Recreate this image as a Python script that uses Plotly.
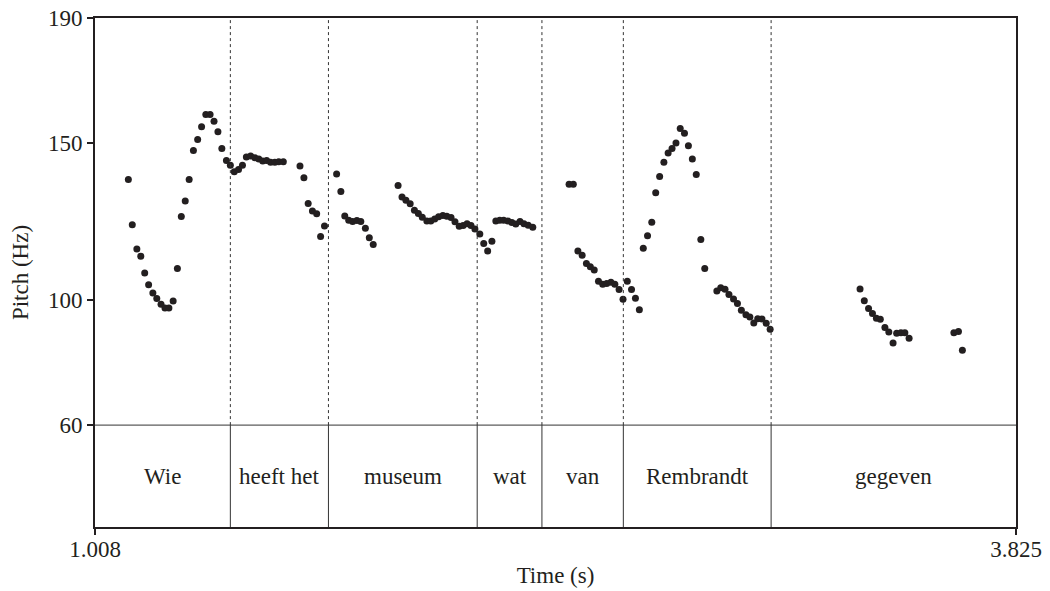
import plotly.graph_objects as go

# Pitch samples (time in s, pitch in Hz)
times = [
    1.110, 1.122, 1.136, 1.148, 1.160, 1.172, 1.185, 1.197, 1.210, 1.222, 1.234, 1.247,
    1.260, 1.272, 1.284, 1.296, 1.309, 1.322, 1.334, 1.347, 1.360, 1.372, 1.384, 1.396,
    1.410, 1.422, 1.434, 1.447, 1.459, 1.471, 1.484, 1.497, 1.509, 1.521, 1.533, 1.545,
    1.558, 1.570, 1.584, 1.635, 1.647, 1.660, 1.673, 1.686, 1.698, 1.710,
    1.747, 1.760, 1.772, 1.784, 1.796, 1.809, 1.821, 1.835, 1.847, 1.859,
    1.935, 1.947, 1.959, 1.972, 1.985, 1.997, 2.009, 2.023, 2.035, 2.047, 2.059, 2.072,
    2.084, 2.097, 2.109, 2.122, 2.134, 2.146, 2.158, 2.170, 2.185,
    2.197, 2.209, 2.222, 2.234, 2.246, 2.258, 2.271, 2.283, 2.295, 2.308, 2.320, 2.333, 2.347,
    2.458, 2.471, 2.485, 2.498, 2.511, 2.523, 2.535, 2.548, 2.561, 2.573, 2.586, 2.598, 2.611, 2.623,
    2.636, 2.649, 2.661, 2.673, 2.685, 2.698, 2.711, 2.723, 2.735, 2.748, 2.761, 2.773, 2.785,
    2.798, 2.811, 2.823, 2.835, 2.847, 2.861, 2.873,
    2.910, 2.922, 2.935, 2.947, 2.961, 2.973, 2.985, 2.999, 3.011, 3.023, 3.035, 3.048, 3.061, 3.073,
    3.348, 3.361, 3.374, 3.386, 3.398, 3.410, 3.424, 3.436, 3.449, 3.460, 3.473, 3.485, 3.498,
    3.635, 3.649, 3.661,
]
pitch = [
    138.4, 124.0, 116.2, 113.9, 108.6, 104.8, 102.2, 100.4, 98.6, 97.4, 97.4, 99.6,
    110.0, 126.6, 131.6, 138.4, 147.7, 151.2, 155.3, 159.2, 159.2, 157.0, 153.7, 148.3,
    144.5, 143.0, 140.9, 141.6, 143.0, 145.6, 145.9, 145.4, 145.0, 144.3, 144.5, 143.9,
    143.9, 144.1, 144.1, 142.7, 139.0, 130.8, 128.4, 127.5, 120.2, 123.6,
    140.2, 134.6, 126.8, 125.4, 125.0, 125.3, 125.0, 122.9, 119.8, 117.7,
    136.5, 132.8, 131.8, 130.7, 128.6, 127.6, 126.4, 125.2, 125.2, 125.8, 126.5, 126.9,
    126.7, 126.3, 124.9, 123.5, 123.7, 124.3, 123.7, 122.6, 121.0,
    118.0, 115.6, 118.7, 125.2, 125.4, 125.4, 125.2, 124.7, 124.2, 125.0, 124.3, 123.8, 123.2,
    136.9, 136.9, 115.6, 114.2, 111.6, 110.6, 109.5, 105.9, 105.0, 105.2, 105.6, 105.0, 103.3, 100.2,
    105.9, 103.3, 100.5, 96.8, 116.5, 120.5, 124.8, 134.2, 139.4, 143.9, 146.9, 148.3, 150.1,
    154.7, 153.2, 149.2, 145.0, 140.0, 119.3, 110.0,
    102.8, 103.9, 103.4, 101.7, 100.3, 98.8, 96.7, 95.2, 94.5, 92.6, 94.0, 93.9, 92.5, 90.6,
    103.5, 99.7, 97.2, 95.6, 94.1, 93.8, 91.2, 89.7, 86.2, 89.3, 89.5, 89.5, 87.7,
    89.5, 89.9, 83.9,
]

# Word tier
words = ["Wie", "heeft het", "museum", "wat", "van", "Rembrandt", "gegeven"]
word_bounds = [1.008, 1.422, 1.722, 2.177, 2.375, 2.624, 3.076, 3.825]

x_range = [1.008, 3.825]
pitch_ticks = [60, 100, 150, 190]
tier_top = 60
y_bottom = 27.46
y_top = 190

FONT = "Liberation Serif, Times New Roman, serif"
INK = "#231f20"

fig = go.Figure()
fig.add_trace(go.Scatter(
    x=times, y=pitch, mode="markers",
    marker=dict(size=7, color=INK, line=dict(width=0)),
    showlegend=False, hoverinfo="x+y", cliponaxis=False,
))

shapes = []
# horizontal line separating pitch area from word tier
shapes.append(dict(type="line", xref="paper", yref="y", x0=0, x1=1, y0=tier_top, y1=tier_top,
                   line=dict(color="#333333", width=1)))
for b in word_bounds[1:-1]:
    shapes.append(dict(type="line", xref="x", yref="y", x0=b, x1=b, y0=tier_top, y1=y_top,
                       line=dict(color="#333333", width=1, dash="dot")))
    shapes.append(dict(type="line", xref="x", yref="y", x0=b, x1=b, y0=y_bottom, y1=tier_top,
                       line=dict(color="#333333", width=1)))

annotations = []
for i, w in enumerate(words):
    annotations.append(dict(
        x=(word_bounds[i] + word_bounds[i + 1]) / 2, y=(tier_top + y_bottom) / 2,
        xref="x", yref="y", text=w, showarrow=False,
        font=dict(family=FONT, size=23, color=INK),
    ))

fig.update_layout(
    width=1050, height=591,
    margin=dict(l=95, r=34, t=18, b=64),
    paper_bgcolor="white", plot_bgcolor="white",
    font=dict(family=FONT, size=23, color=INK),
    shapes=shapes, annotations=annotations,
    xaxis=dict(
        range=x_range, showgrid=False, zeroline=False, automargin=False,
        showline=True, mirror=True, linecolor=INK, linewidth=2,
        ticks="outside", ticklen=6, tickwidth=2, tickcolor=INK,
        tickvals=x_range, ticktext=["1.008", "3.825"], ticklabelstandoff=-6,
        title=dict(text="Time (s)", standoff=6, font=dict(size=23)),
    ),
    yaxis=dict(
        range=[y_bottom, y_top], showgrid=False, zeroline=False, automargin=False,
        showline=True, mirror=True, linecolor=INK, linewidth=2,
        ticks="outside", ticklen=6, tickwidth=2, tickcolor=INK,
        tickvals=pitch_ticks, ticktext=[str(v) for v in pitch_ticks],
        title=dict(text="Pitch (Hz)", standoff=13, font=dict(size=23)),
    ),
)

fig.write_html("out.html", config={"displayModeBar": False},
               post_script="document.body.style.margin='0px';")
